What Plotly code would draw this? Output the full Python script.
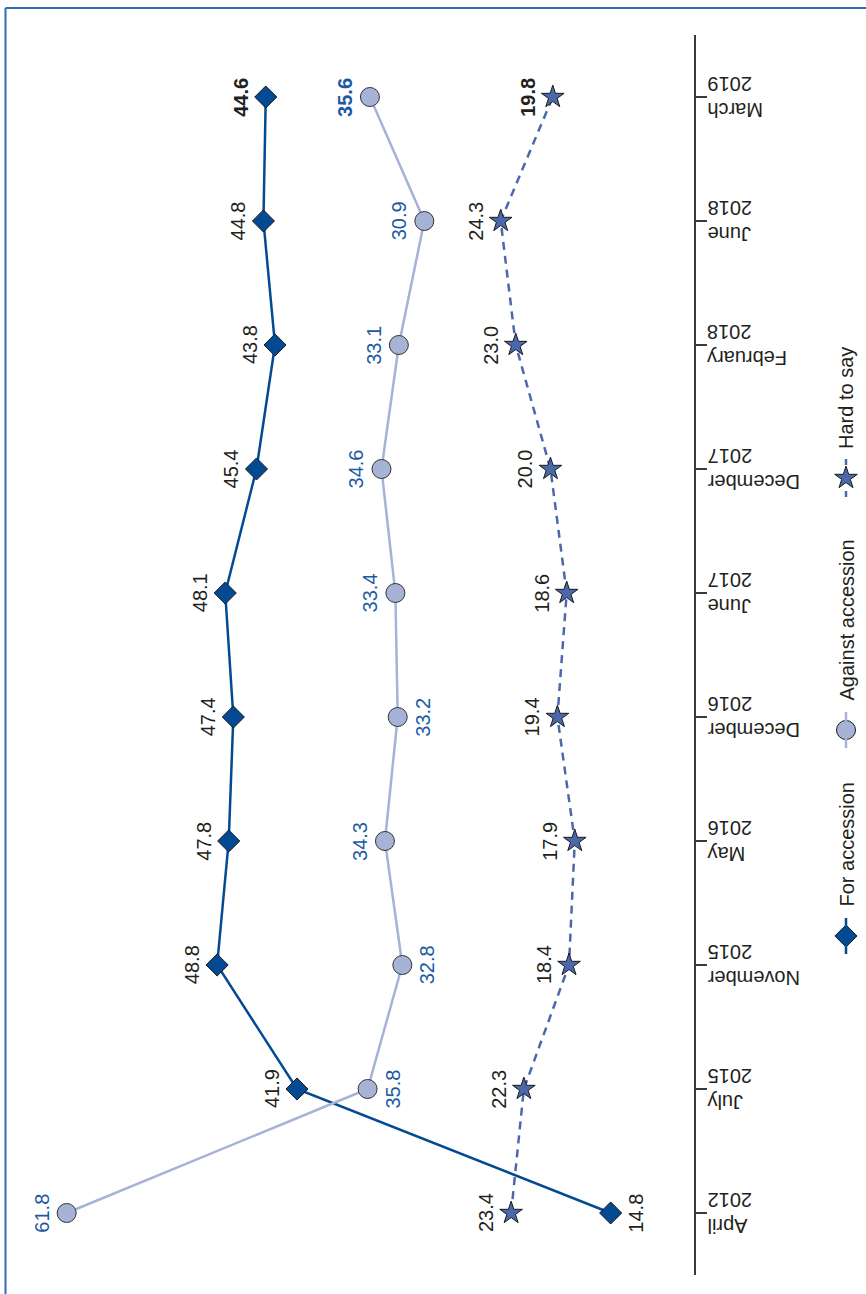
import plotly.graph_objects as go

months = ["April", "July", "November", "May", "December", "June", "December", "February", "June", "March"]
years = ["2012", "2015", "2015", "2016", "2016", "2017", "2017", "2018", "2018", "2019"]
for_accession = [14.8, 41.9, 48.8, 47.8, 47.4, 48.1, 45.4, 43.8, 44.8, 44.6]
against_accession = [61.8, 35.8, 32.8, 34.3, 33.2, 33.4, 34.6, 33.1, 30.9, 35.6]
hard_to_say = [23.4, 22.3, 18.4, 17.9, 19.4, 18.6, 20.0, 23.0, 24.3, 19.8]
series_names = ["For accession", "Against accession", "Hard to say"]

# label side: -1 = left of marker, +1 = right of marker
for_side = [1, -1, -1, -1, -1, -1, -1, -1, -1, -1]
against_side = [-1, 1, 1, -1, 1, -1, -1, -1, -1, -1]
hard_side = [-1] * 10

W, H = 866, 1294
FONT = "Liberation Sans, Arial, sans-serif"
C_FOR = "#034a93"
C_AG = "#a6b3d6"
C_HARD = "#4b69aa"
C_AG_TXT = "#1b5aa3"
C_TXT = "#231f20"
C_AXIS = "#3a3a3a"

fig = go.Figure()
idx = list(range(len(months)))

fig.add_trace(go.Scatter(x=for_accession, y=idx, mode="lines+markers", name=series_names[0],
                         line=dict(color=C_FOR, width=2.5),
                         marker=dict(symbol="diamond", size=17, color=C_FOR, line=dict(color="#1a1a1a", width=1))))
fig.add_trace(go.Scatter(x=against_accession, y=idx, mode="lines+markers", name=series_names[1],
                         line=dict(color=C_AG, width=2.5),
                         marker=dict(symbol="circle", size=19, color=C_AG, line=dict(color="#333333", width=1))))
fig.add_trace(go.Scatter(x=hard_to_say, y=idx, mode="lines+markers", name=series_names[2],
                         line=dict(color=C_HARD, width=2.5, dash="8px,6px"),
                         marker=dict(symbol="star", size=17, color=C_HARD, line=dict(color="#1a1a1a", width=1))))

anns = []
def add_labels(vals, sides, color):
    n = len(vals)
    for i, (v, s) in enumerate(zip(vals, sides)):
        txt = f"{v:.1f}"
        if i == n - 1:
            txt = f"<b>{txt}</b>"
        anns.append(dict(x=v, y=i, xref="x", yref="y", text=txt, showarrow=False,
                         textangle=-90, xanchor="center", yanchor="middle", xshift=25 * s,
                         font=dict(family=FONT, size=20, color=color)))

add_labels(for_accession, for_side, C_TXT)
add_labels(against_accession, against_side, C_AG_TXT)
add_labels(hard_to_say, hard_side, C_TXT)

# category labels (upside down, as in the rotated original)
for i, (m, yv) in enumerate(zip(months, years)):
    anns.append(dict(x=705 / W, y=i, xref="paper", yref="y", text=f"{m}<br>{yv}", showarrow=False,
                     textangle=180, align="right", xanchor="left", yanchor="middle",
                     font=dict(family=FONT, size=20, color=C_TXT)))

# manual rotated legend (pixel coordinates)
leg_x = 846
leg_items = [(series_names[0], 936, C_FOR, "diamond", 17, False),
             (series_names[1], 730, C_AG, "circle", 19, False),
             (series_names[2], 478, C_HARD, "star", 17, True)]
shapes = []
def px(x):
    return x / W
def py(y):
    return 1 - y / H
for name, my, col, sym, sz, dashed in leg_items:
    if dashed:
        for a, b in [(my - 19, my - 13), (my + 13, my + 19)]:
            shapes.append(dict(type="line", xref="paper", yref="paper", x0=px(leg_x), x1=px(leg_x),
                               y0=py(a), y1=py(b), line=dict(color=col, width=2.5)))
    else:
        shapes.append(dict(type="line", xref="paper", yref="paper", x0=px(leg_x), x1=px(leg_x),
                           y0=py(my - 18), y1=py(my + 18), line=dict(color=col, width=2.5)))
    fig.add_trace(go.Scatter(x=[leg_x], y=[my], xaxis="x2", yaxis="y2", mode="markers", showlegend=False,
                             hoverinfo="skip",
                             marker=dict(symbol=sym, size=sz, color=col, line=dict(color="#1a1a1a", width=1))))
    anns.append(dict(x=px(leg_x), y=py(my - 27), xref="paper", yref="paper", text=name, showarrow=False,
                     textangle=-90, xanchor="center", yanchor="bottom",
                     font=dict(family=FONT, size=20, color=C_TXT)))

# blue frame (left and top edges)
shapes.append(dict(type="line", xref="paper", yref="paper", x0=px(5.5), x1=px(5.5), y0=0, y1=py(8),
                   line=dict(color="#2f6db5", width=2)))
shapes.append(dict(type="line", xref="paper", yref="paper", x0=px(5.5), x1=1, y0=py(8), y1=py(8),
                   line=dict(color="#2f6db5", width=2)))

fig.update_layout(
    width=W, height=H, margin=dict(l=0, r=0, t=0, b=0),
    paper_bgcolor="white", plot_bgcolor="rgba(0,0,0,0)",
    showlegend=False,
    font=dict(family=FONT, color=C_TXT),
    xaxis=dict(domain=[0, 694 / W], range=[67.56, 7.6], visible=False, fixedrange=True),
    yaxis=dict(domain=[19 / H, 1 - 35 / H], range=[-0.5, 9.5], side="right",
               tickmode="array", tickvals=idx, ticktext=[""] * len(idx), showticklabels=False,
               tickson="boundaries", ticks="outside", ticklen=11, tickcolor=C_AXIS, tickwidth=1.5,
               showline=True, linecolor=C_AXIS, linewidth=1.5, showgrid=False, zeroline=False),
    xaxis2=dict(domain=[0, 1], range=[0, W], visible=False, anchor="y2"),
    yaxis2=dict(domain=[0, 1], range=[H, 0], visible=False, anchor="x2"),
    annotations=anns, shapes=shapes,
)

fig.write_html("out.html", config={"displayModeBar": False},
               post_script="document.body.style.margin='0';document.body.style.padding='0';")
